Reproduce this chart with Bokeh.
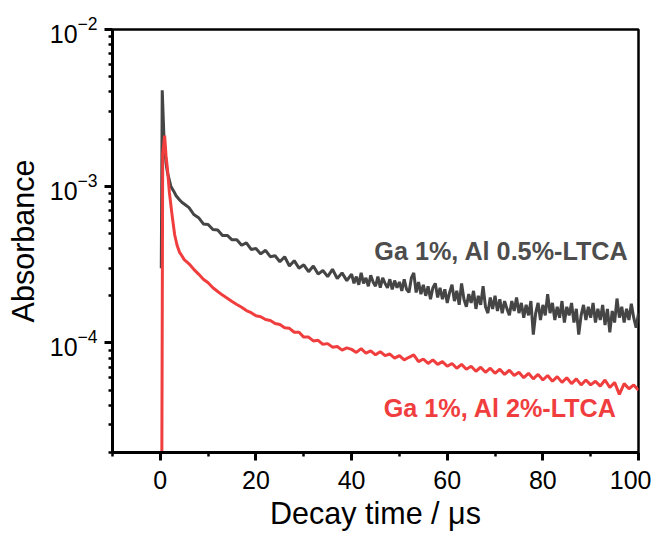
from bokeh.plotting import figure
from bokeh.models import FixedTicker, Range1d, Label, ColumnDataSource, LogTickFormatter
from bokeh.embed import file_html
from bokeh.resources import INLINE

# ---------------- data (absorbance in units of 1e-4) ----------------
black_t = [0.2, 0.4, 0.8, 1.2, 1.5, 2.2, 2.8, 3.3, 4.0, 4.5, 5.0, 6, 7, 8, 9, 10, 11, 12, 13, 14,
           15, 16, 17, 18, 19, 20, 21, 22, 23, 24, 25, 26, 27, 28, 29, 30, 31, 32, 33, 34,
           35, 36, 37, 38, 39,
           40, 40.5, 41, 41.5, 42, 42.5, 43, 43.5, 44, 44.5,
           45, 45.5, 46, 46.5, 47, 47.5, 48, 48.5, 49, 49.5,
           50, 50.5, 51, 51.5, 52, 52.5, 53, 53.5, 54, 54.5,
           55, 55.5, 56, 56.5, 57, 57.5, 58, 58.5, 59, 59.5,
           60, 60.5, 61, 61.5, 62, 62.5, 63, 63.5, 64, 64.5,
           65, 65.5, 66, 66.5, 67, 67.5, 68, 68.5, 69, 69.5,
           70, 70.5, 71, 71.5, 72, 72.5, 73, 73.5, 74, 74.5,
           75, 75.5, 76, 76.5, 77, 77.5, 78, 78.5, 79, 79.5,
           80, 80.5, 81, 81.5, 82, 82.5, 83, 83.5, 84, 84.5,
           85, 85.5, 86, 86.5, 87, 87.5, 88, 88.5, 89, 89.5,
           90, 90.5, 91, 91.5, 92, 92.5, 93, 93.5, 94, 94.5,
           95, 95.5, 96, 96.5, 97, 97.5, 98, 98.5, 99, 99.5,
           100]
black_abs = [3.0, 41.0, 19.0, 14.0, 12.2, 10.0, 9.3, 8.7, 8.2, 7.9, 7.7, 7.3, 6.6, 6.3, 5.75, 5.7, 5.3, 5.25, 4.85, 4.85,
             4.55, 4.55, 4.2, 4.35, 3.95, 4.0, 3.7, 3.9, 3.55, 3.6, 3.3, 3.55, 3.1, 3.35, 3.0, 3.15, 2.85, 3.1, 2.75, 2.9,
             2.65, 2.95, 2.58, 2.8, 2.5,
             2.75, 2.4, 2.65, 2.35, 2.8, 2.4, 2.6, 2.3, 2.7, 2.45,
             2.3, 2.65, 2.25, 2.6, 2.4, 2.25, 2.55, 2.2, 2.5, 2.25,
             2.45, 2.15, 2.55, 2.2, 2.1, 2.6, 2.8, 2.1, 2.45, 2.05,
             2.35, 2.0, 2.3, 1.9, 2.25, 2.4, 1.95, 2.25, 1.9, 2.2,
             1.8, 2.1, 2.35, 1.85, 2.15, 1.75, 2.4, 1.9, 1.7, 2.05,
             1.8, 2.15, 1.65, 2.0, 1.75, 2.3, 1.7, 1.55, 1.95, 1.65,
             2.0, 1.6, 1.9, 1.55, 1.85, 1.65, 1.5, 1.85, 1.6, 1.95,
             1.55, 1.8, 1.45, 1.75, 1.5, 1.85, 1.13, 1.55, 1.8, 1.4,
             1.75, 1.5, 2.05, 1.55, 1.8, 1.4, 1.7, 1.45, 1.85, 1.35,
             1.7, 1.5, 1.8, 1.35, 1.65, 1.13, 1.5, 1.75, 1.4, 1.7,
             1.45, 1.8, 1.35, 1.65, 1.4, 1.75, 1.3, 1.65, 1.17, 1.6,
             1.35, 1.92, 1.45, 1.7, 1.35, 1.65, 1.4, 1.78, 1.45, 1.25,
             1.55]

red_t = [0.2, 0.5, 0.9, 1.2, 1.5, 1.9, 2.5, 3.0, 3.5, 4.0, 4.5, 5, 6, 7, 8, 9, 10, 11, 12, 13,
         14, 15, 16, 17, 18, 19, 20, 21, 22, 23, 24, 25, 26, 27, 28, 29, 30, 31, 32, 33,
         34, 35, 36, 37, 38, 39, 40, 41, 42, 43, 44, 45, 46, 47, 48, 49, 50, 51, 52, 53,
         54, 55, 56, 57, 58, 59, 60, 61, 62, 63, 64, 65, 66, 67, 68, 69, 70, 71, 72, 73,
         74, 75, 76, 77, 78, 79, 80, 81, 82, 83, 84, 85, 86, 87, 88, 89, 90, 91, 92, 93,
         94, 95, 96, 97, 98, 99, 100]
red_abs = [0.01, 16.0, 21.0, 15.6, 12.8, 9.1, 6.4, 4.9, 4.2, 3.8, 3.6, 3.4, 3.2, 2.95, 2.75, 2.55, 2.42, 2.25, 2.13, 2.02,
           1.93, 1.84, 1.76, 1.69, 1.61, 1.56, 1.49, 1.47, 1.41, 1.39, 1.33, 1.31, 1.25, 1.24, 1.17, 1.17, 1.09, 1.09, 1.03, 1.04,
           0.98, 0.99, 0.94, 0.95, 0.9, 0.93, 0.91, 0.87, 0.92, 0.86, 0.89, 0.84, 0.88, 0.83, 0.85, 0.8, 0.83, 0.78, 0.81, 0.84,
           0.76, 0.79, 0.74, 0.78, 0.73, 0.76, 0.71, 0.74, 0.69, 0.73, 0.68, 0.71, 0.66, 0.7, 0.65, 0.69, 0.64, 0.68, 0.63, 0.67,
           0.62, 0.65, 0.6, 0.64, 0.59, 0.63, 0.58, 0.62, 0.57, 0.61, 0.56, 0.6, 0.55, 0.59, 0.54, 0.58, 0.54, 0.57, 0.53, 0.58,
           0.52, 0.56, 0.47, 0.55, 0.51, 0.54, 0.5]

x_major = [0, 20, 40, 60, 80, 100]
x_minor = [-10, 10, 30, 50, 70, 90]
y_major = [1e-4, 1e-3, 1e-2]
y_minor = [m * 10.0 ** e for e in (-5, -4, -3) for m in range(2, 10)]

label_black = "Ga 1%, Al 0.5%-LTCA"
label_red = "Ga 1%, Al 2%-LTCA"

FONT = "Liberation Sans"
BLACK = "#454545"
RED = "#f03e3e"

p = figure(width=651, height=532, y_axis_type="log",
           x_range=Range1d(-10, 100), y_range=Range1d(2e-5, 1e-2),
           output_backend="svg", toolbar_location=None,
           min_border_left=112, min_border_right=13, min_border_top=29, min_border_bottom=78)
p.xgrid.visible = False
p.ygrid.visible = False
p.background_fill_color = "white"
p.border_fill_color = "white"
p.outline_line_color = "black"
p.outline_line_width = 2.5
p.outline_line_alpha = 1

src_b = ColumnDataSource(dict(t=black_t, a=[v * 1e-4 for v in black_abs]))
src_r = ColumnDataSource(dict(t=red_t, a=[v * 1e-4 for v in red_abs]))
p.line("t", "a", source=src_b, line_color=BLACK, line_width=3)
p.line("t", "a", source=src_r, line_color=RED, line_width=3)

p.xaxis.ticker = FixedTicker(ticks=x_major, minor_ticks=x_minor)
p.yaxis.ticker = FixedTicker(ticks=y_major, minor_ticks=y_minor)
p.yaxis.formatter = LogTickFormatter()

for ax in (p.xaxis[0], p.yaxis[0]):
    ax.axis_line_width = 3
    ax.major_tick_line_width = 3
    ax.minor_tick_line_width = 2.5
    ax.major_tick_in = 0
    ax.major_tick_out = 8
    ax.minor_tick_in = 0
    ax.minor_tick_out = 4
    ax.major_label_text_font = FONT
    ax.major_label_text_font_size = "25px"
    ax.major_label_text_color = "black"
    ax.axis_label_text_font = FONT
    ax.axis_label_text_font_size = "30.5px"
    ax.axis_label_text_font_style = "normal"
    ax.axis_label_text_color = "black"

p.xaxis.axis_label = "Decay time / μs"
p.yaxis.axis_label = "Absorbance"
p.xaxis.major_label_standoff = 10
p.xaxis.axis_label_standoff = 4
p.yaxis.major_label_standoff = 7
p.yaxis.axis_label_standoff = 7

p.add_layout(Label(x=71.35, y=3.84e-4, text=label_black, text_align="center", text_baseline="middle",
                   text_font=FONT, text_font_size="25.2px", text_font_style="bold", text_color="#4d4d4d"))
p.add_layout(Label(x=71.1, y=3.85e-5, text=label_red, text_align="center", text_baseline="middle",
                   text_font=FONT, text_font_size="25.2px", text_font_style="bold", text_color=RED))

open("out.html", "w").write(file_html(p, INLINE))
